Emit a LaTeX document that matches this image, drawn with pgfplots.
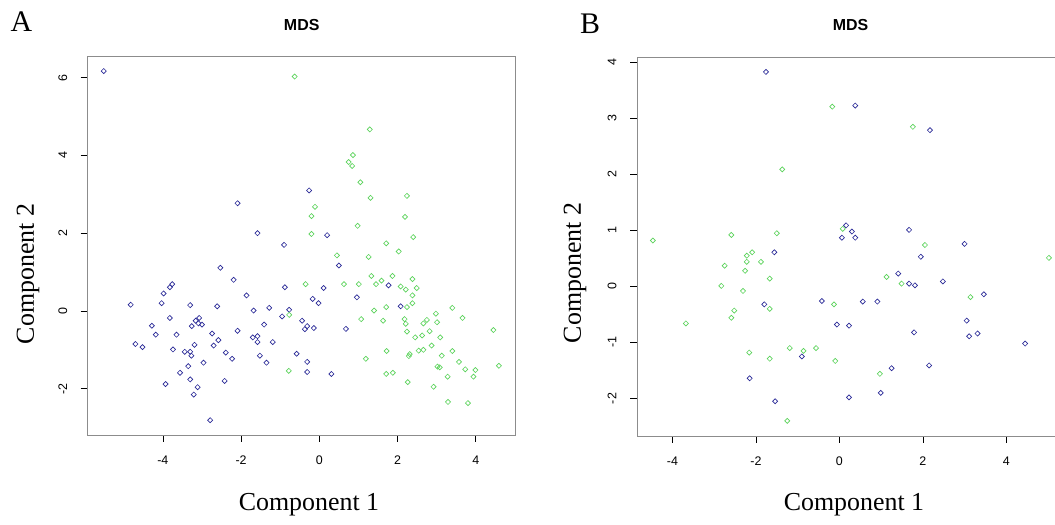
\documentclass[border=0pt]{standalone}
\usepackage{fontspec}
\setmainfont{Liberation Serif}
\setsansfont{Liberation Sans}
\usepackage{pgfplots}
\pgfplotsset{compat=1.18}

\definecolor{mdsblue}{RGB}{40,40,150}
\definecolor{mdsgreen}{RGB}{90,210,90}

\pgfplotsset{
  mds/.style={
    scale only axis, anchor=south west,
    axis line style={draw=gray!90, line width=0.8bp},
    tick style={black, line width=0.6bp},
    tick align=outside, major tick length=7bp,
    tick pos=left,
    ticklabel style={font=\sffamily\fontsize{12.5}{14}\selectfont},
    /pgf/number format/assume math mode=true,
    yticklabel style={rotate=90, anchor=south},
    xticklabel style={anchor=north},
    xticklabel shift=10bp, yticklabel shift=10bp,
  },
  pts/.style={only marks, mark=square, mark size=1.8bp,
    mark options={rotate=45, line width=0.65bp}},
}

\begin{document}
\begin{tikzpicture}[x=1bp,y=1bp]

% ---- panel A ----
\begin{axis}[mds, at={(87.7bp,90bp)}, width=428bp, height=378.3bp,
  xmin=-5.92, xmax=5.02, ymin=-3.19, ymax=6.54,
  xtick={-4,-2,0,2,4}, ytick={-2,0,2,4,6}]
\draw[black, line width=0.8bp] (rel axis cs:0,0) -- (rel axis cs:1,0);
\addplot[pts, mdsblue] coordinates {
(-5.51,6.17) (-2.09,2.77) (-1.58,2.00) (-0.90,1.70) (-0.26,3.10) (0.20,1.95)
(0.50,1.17) (1.77,0.66) (-0.88,0.61) (0.11,0.59) (-0.17,0.31) (-0.02,0.20)
(0.96,0.35) (2.08,0.12) (-0.77,0.03) (-0.95,-0.14) (-0.44,-0.25) (-0.31,-0.39)
(-0.37,-0.47) (-0.14,-0.44) (0.68,-0.46) (-0.58,-1.10) (-0.31,-1.31) (-0.31,-1.57)
(0.31,-1.62) (-2.53,1.11) (-2.19,0.80) (-3.76,0.69) (-3.82,0.61) (-3.98,0.45)
(-1.86,0.40) (-4.82,0.16) (-4.03,0.20) (-3.30,0.15) (-2.61,0.12) (-1.68,0.01)
(-1.28,0.08) (-3.82,-0.18) (-3.07,-0.18) (-3.16,-0.25) (-3.09,-0.32) (-3.00,-0.35)
(-3.26,-0.39) (-4.28,-0.38) (-1.41,-0.35) (-2.09,-0.51) (-4.18,-0.61) (-3.65,-0.61)
(-2.74,-0.58) (-2.58,-0.75) (-1.70,-0.68) (-1.58,-0.65) (-1.58,-0.80) (-1.19,-0.80)
(-4.70,-0.85) (-4.52,-0.93) (-3.19,-0.87) (-2.70,-0.89) (-3.74,-0.99) (-3.44,-1.05)
(-3.30,-1.05) (-3.27,-1.15) (-2.39,-1.07) (-2.23,-1.23) (-1.52,-1.15) (-2.96,-1.33)
(-1.35,-1.33) (-3.35,-1.42) (-3.56,-1.59) (-3.30,-1.76) (-3.93,-1.88) (-3.11,-1.96)
(-3.21,-2.15) (-2.42,-1.80) (-2.79,-2.81)
};
\addplot[pts, mdsgreen] coordinates {
(-0.63,6.03) (1.29,4.67) (0.86,4.01) (0.75,3.83) (0.84,3.73) (1.05,3.31)
(1.31,2.91) (2.24,2.96) (-0.11,2.68) (-0.20,2.44) (2.19,2.42) (0.98,2.19)
(-0.20,1.98) (1.71,1.74) (2.40,1.90) (2.03,1.53) (0.45,1.43) (1.26,1.39)
(1.33,0.90) (1.87,0.90) (2.38,0.82) (1.59,0.78) (1.45,0.69) (-0.35,0.69)
(0.63,0.69) (1.01,0.69) (2.08,0.63) (2.21,0.55) (2.49,0.59) (2.38,0.40)
(2.38,0.20) (2.24,0.10) (1.71,0.10) (3.40,0.08) (1.40,0.01) (-0.77,-0.10)
(2.98,-0.07) (3.66,-0.18) (1.07,-0.21) (1.63,-0.25) (2.18,-0.21) (2.21,-0.33)
(2.75,-0.23) (2.66,-0.32) (3.01,-0.29) (2.24,-0.53) (2.82,-0.52) (4.45,-0.49)
(2.45,-0.68) (2.63,-0.63) (3.09,-0.68) (2.87,-0.89) (1.72,-1.03) (2.54,-1.02)
(2.66,-1.00) (3.40,-1.03) (2.31,-1.11) (2.29,-1.16) (3.13,-1.15) (1.19,-1.23)
(3.57,-1.31) (3.02,-1.43) (3.08,-1.45) (4.59,-1.41) (3.73,-1.50) (3.99,-1.52)
(-0.78,-1.54) (1.71,-1.62) (1.88,-1.59) (3.28,-1.69) (3.94,-1.69) (2.26,-1.83)
(2.92,-1.95) (3.29,-2.34) (3.80,-2.37)
};
\end{axis}

% ---- panel B ----
\begin{axis}[mds, at={(637bp,89bp)}, width=426.9bp, height=378.6bp,
  xmin=-4.85, xmax=5.38, ymin=-2.67, ymax=4.09,
  xtick={-4,-2,0,2,4}, ytick={-2,-1,0,1,2,3,4}]
\draw[black, line width=0.8bp] (rel axis cs:0,0) -- (rel axis cs:1,0);
\addplot[pts, mdsblue] coordinates {
(-1.76,3.83) (0.16,1.09) (0.06,0.87) (0.38,3.23) (2.17,2.79) (0.30,0.98)
(0.38,0.87) (1.67,1.01) (3.00,0.76) (1.95,0.53) (1.41,0.23) (1.67,0.05)
(1.81,0.02) (2.48,0.09) (3.46,-0.14) (0.56,-0.27) (0.91,-0.27) (0.23,-0.70)
(1.79,-0.82) (3.05,-0.61) (3.11,-0.89) (3.31,-0.84) (4.45,-1.02) (1.25,-1.46)
(2.15,-1.41) (0.99,-1.90) (0.23,-1.98) (-1.56,0.61) (-1.80,-0.32) (-0.42,-0.26)
(-0.06,-0.68) (-0.90,-1.25) (-2.15,-1.64) (-1.54,-2.05)
};
\addplot[pts, mdsgreen] coordinates {
(-0.17,3.21) (-1.37,2.09) (-4.47,0.82) (-2.59,0.92) (-1.50,0.95) (0.08,1.03)
(1.76,2.85) (2.05,0.74) (5.02,0.51) (1.13,0.17) (1.49,0.05) (3.14,-0.19)
(0.97,-1.56) (-2.09,0.61) (-2.22,0.55) (-2.22,0.44) (-1.88,0.44) (-2.75,0.37)
(-2.26,0.28) (-1.67,0.14) (-2.83,0.01) (-2.31,-0.08) (-1.67,-0.40) (-0.13,-0.32)
(-2.52,-0.43) (-2.59,-0.56) (-3.68,-0.66) (-2.16,-1.18) (-1.67,-1.29) (-1.19,-1.10)
(-0.86,-1.15) (-0.56,-1.10) (-0.10,-1.33) (-1.25,-2.40)
};
\end{axis}

% titles, panel letters and axis labels
\node[font=\sffamily\bfseries\fontsize{16}{18}\selectfont] at (301.7,500) {MDS};
\node[font=\sffamily\bfseries\fontsize{16}{18}\selectfont] at (850.5,500) {MDS};
\node[font=\fontsize{30}{34}\selectfont] at (21.5,503) {A};
\node[font=\fontsize{30}{34}\selectfont] at (590,501) {B};
\node[font=\fontsize{26}{30}\selectfont] at (309,20) {Component 1};
\node[font=\fontsize{26}{30}\selectfont] at (854,20) {Component 1};
\node[font=\fontsize{26}{30}\selectfont, rotate=90] at (28,251) {Component 2};
\node[font=\fontsize{26}{30}\selectfont, rotate=90] at (575,252) {Component 2};

\pgfresetboundingbox
\path[use as bounding box] (0,0) rectangle (1055,525);
\end{tikzpicture}
\end{document}
